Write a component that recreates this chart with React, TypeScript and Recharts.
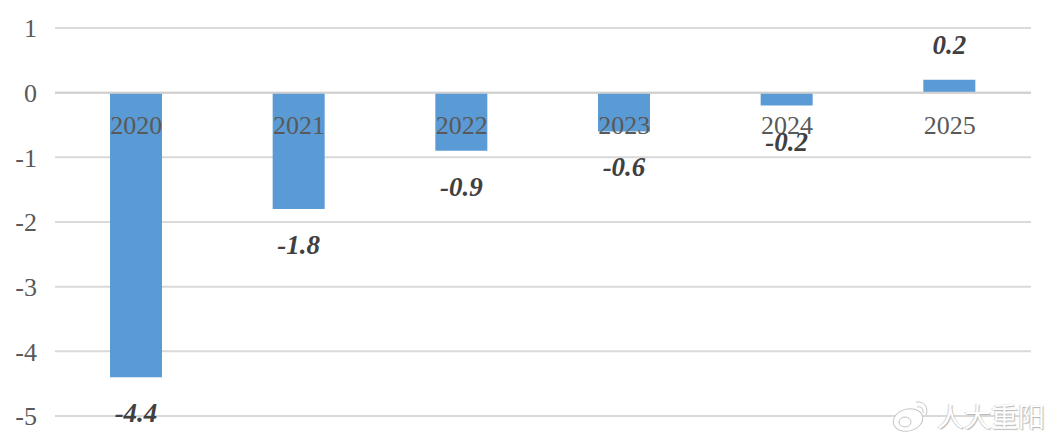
import React from 'react';
import { BarChart, Bar, XAxis, YAxis, CartesianGrid, LabelList, ReferenceLine } from 'recharts';

const years = ['2020', '2021', '2022', '2023', '2024', '2025'];
const growth = [-4.4, -1.8, -0.9, -0.6, -0.2, 0.2];
const yTicks = [1, 0, -1, -2, -3, -4, -5];

const data = years.map((year, i) => ({ year, growth: growth[i] }));

const FONT = '"Liberation Serif", serif';

// value label sits a fixed distance past the end of the bar
const ValueLabel = (props: any) => {
  const { x, y, width, height, value } = props;
  const top = Math.min(y, y + height);
  const bottom = Math.max(y, y + height);
  const cy = value < 0 ? bottom + 36 : top - 35;
  return (
    <text
      x={x + width / 2}
      y={cy}
      textAnchor="middle"
      dominantBaseline="central"
      fontFamily={FONT}
      fontSize={27}
      fontWeight="bold"
      fontStyle="italic"
      fill="#404040"
    >
      {value}
    </text>
  );
};

const App: React.FC = () => {
  return (
    <div style={{ position: 'absolute', left: 0, top: 0, width: 1057, height: 443, background: '#fff', overflow: 'hidden' }}>
      <BarChart width={1057} height={443} data={data} margin={{ top: 28, right: 26, bottom: 0, left: 1 }}>
        <CartesianGrid vertical={false} stroke="#d9d9d9" strokeWidth={2} />
        <XAxis
          dataKey="year"
          height={27}
          axisLine={false}
          tickLine={false}
          interval={0}
          tick={{ fill: '#595959', fontSize: 26, fontFamily: FONT, dy: -308 }}
        />
        <YAxis
          domain={[-5, 1]}
          ticks={yTicks}
          interval={0}
          width={54}
          axisLine={false}
          tickLine={false}
          tickMargin={12}
          tick={{ fill: '#595959', fontSize: 26, fontFamily: FONT }}
        />
        <ReferenceLine y={0} stroke="#d0d0d0" strokeWidth={2} />
        <Bar dataKey="growth" fill="#5b9bd5" barSize={52} isAnimationActive={false}>
          <LabelList dataKey="growth" content={ValueLabel} />
        </Bar>
      </BarChart>
      <svg width={40} height={34} style={{ position: 'absolute', left: 891, top: 399 }}>
        <ellipse cx={17} cy={21} rx={15} ry={11} fill="#fff" stroke="#c4c4c4" strokeWidth={1} transform="rotate(-15 17 21)" />
        <ellipse cx={14} cy={23} rx={6} ry={5} fill="none" stroke="#c4c4c4" strokeWidth={1} />
        <path d="M25 3 C33 2 38 8 35 16 M26 8 C30 7 33 10 32 14" fill="none" stroke="#c4c4c4" strokeWidth={1} />
      </svg>
      <div
        style={{
          position: 'absolute',
          left: 937,
          top: 398,
          fontFamily: '"Noto Sans CJK SC", sans-serif',
          fontSize: 27,
          lineHeight: '36px',
          color: '#fff',
          textShadow: '1px 1px 1px #b5b5b5, -1px 0 1px #d0d0d0',
          whiteSpace: 'nowrap',
        }}
      >
        人大重阳
      </div>
    </div>
  );
};

export default App;
